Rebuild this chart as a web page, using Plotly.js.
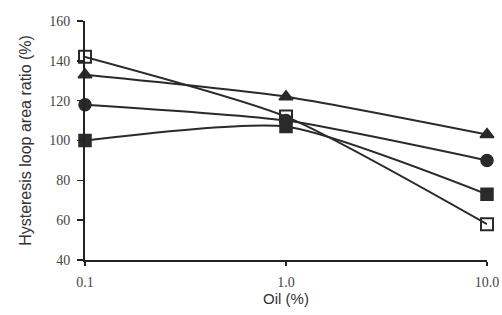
<!DOCTYPE html>
<html>
<head>
<meta charset="utf-8">
<script src="https://cdn.plot.ly/plotly-3.0.1.min.js"></script>
<style>html,body{margin:0;padding:0;background:#fff;}#chart{width:502px;height:315px;}</style>
</head>
<body>
<div id="chart"></div>
<script>
const oil = [0.1, 1.0, 10.0];
const seriesOpenSquare = [142, 112, 58];
const seriesTriangle = [133, 122, 103];
const seriesCircle = [118, 110, 90];
const seriesFilledSquare = [100, 107, 73];
const xTickVals = [0.1, 1, 10];
const xTickText = ['0.1', '1.0', '10.0'];
const yTickVals = [40, 60, 80, 100, 120, 140, 160];

const lineStyle = {color: '#2a2a2a', width: 2, shape: 'spline', smoothing: 0.6};
function mk(y, symbol, name) {
  return {
    x: oil, y: y, type: 'scatter', mode: 'lines+markers', name: name,
    line: lineStyle,
    marker: {symbol: symbol, size: 12, color: '#2a2a2a',
             line: {color: '#2a2a2a', width: 1.5}},
    cliponaxis: false
  };
}
const data = [
  mk(seriesFilledSquare, 'square', 'A'),
  mk(seriesCircle, 'circle', 'B'),
  mk(seriesTriangle, 'triangle-up', 'C'),
  mk(seriesOpenSquare, 'square-open', 'D')
];
data[3].marker.line = {color: '#2a2a2a', width: 2};

const layout = {
  width: 502, height: 315,
  margin: {l: 85, r: 15, t: 21, b: 55},
  paper_bgcolor: '#ffffff', plot_bgcolor: '#ffffff',
  showlegend: false,
  xaxis: {
    type: 'log', range: [-1, 1],
    tickvals: xTickVals, ticktext: xTickText,
    showline: true, linecolor: '#222', linewidth: 2,
    ticks: 'outside', ticklen: 4, tickcolor: '#222', tickwidth: 1.5,
    ticklabelstandoff: 4,
    showgrid: false, zeroline: false,
    tickfont: {family: 'Liberation Serif, serif', size: 14, color: '#444'},
    title: {text: 'Oil (%)', font: {family: 'Liberation Sans, Arial, sans-serif', size: 15, color: '#333'}, standoff: 2}
  },
  yaxis: {
    range: [40, 160],
    tickvals: yTickVals,
    showline: true, linecolor: '#222', linewidth: 2,
    ticks: 'outside', ticklen: 6, tickcolor: '#222', tickwidth: 1.5,
    ticklabelstandoff: 4,
    showgrid: false, zeroline: false,
    tickfont: {family: 'Liberation Serif, serif', size: 14, color: '#444'},
    title: {text: 'Hysteresis loop area ratio (%)', font: {family: 'Liberation Sans, Arial, sans-serif', size: 16, color: '#333'}, standoff: 14}
  }
};
Plotly.newPlot('chart', data, layout, {staticPlot: true, displayModeBar: false});
</script>
</body>
</html>
